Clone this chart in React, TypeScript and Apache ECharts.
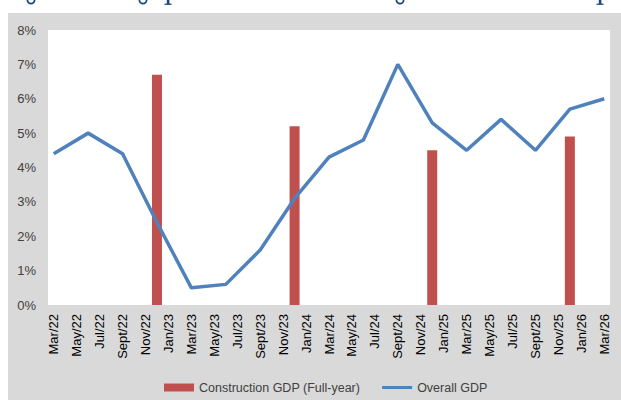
import React, { useEffect, useRef } from "react";
import * as echarts from "echarts";

// Monthly category axis (Excel-style date axis), labels every two months
const monthNames = ["Jan", "Feb", "Mar", "Apr", "May", "Jun", "Jul", "Aug", "Sept", "Oct", "Nov", "Dec"];
const startYear = 22;
const startMonth = 2; // Mar
const monthCount = 49; // Mar/22 .. Mar/26

// Overall GDP, quarterly observations
const overallLabels = [
  "Mar/22", "Jun/22", "Sept/22", "Dec/22",
  "Mar/23", "Jun/23", "Sept/23", "Dec/23",
  "Mar/24", "Jun/24", "Sept/24", "Dec/24",
  "Mar/25", "Jun/25", "Sept/25", "Dec/25",
  "Mar/26",
];
const overallGdp = [4.4, 5.0, 4.4, 2.4, 0.5, 0.6, 1.6, 3.1, 4.3, 4.8, 7.0, 5.3, 4.5, 5.4, 4.5, 5.7, 6.0];

// Construction GDP, full-year observations
const constructionLabels = ["Dec/22", "Dec/23", "Dec/24", "Dec/25"];
const constructionGdp = [6.7, 5.2, 4.5, 4.9];

const yTicks = [0, 1, 2, 3, 4, 5, 6, 7, 8];

// Cut-off title above the chart: only glyph descenders remain visible
const descenderKinds = ["g", "g", "p", "g", "p"];
const descenderX = [31, 143, 168, 400, 600];

function buildCategories(): string[] {
  const out: string[] = [];
  for (let i = 0; i < monthCount; i++) {
    const m = (startMonth + i) % 12;
    const y = startYear + Math.floor((startMonth + i) / 12);
    out.push(`${monthNames[m]}/${y}`);
  }
  return out;
}

function descenderShapes(): any[] {
  const color = "#1f497d";
  const out: any[] = [];
  descenderKinds.forEach((k, i) => {
    const x = descenderX[i];
    if (k === "g") {
      out.push({
        type: "arc",
        silent: true,
        shape: { cx: x, cy: 0, r: 3.6, startAngle: 0, endAngle: Math.PI },
        style: { stroke: color, lineWidth: 1.8, fill: null },
      });
    } else {
      out.push({
        type: "rect",
        silent: true,
        shape: { x: x - 1.2, y: 0, width: 2.6, height: 4.5 },
        style: { fill: color },
      });
      out.push({
        type: "rect",
        silent: true,
        shape: { x: x - 3.5, y: 3.6, width: 7, height: 1.3 },
        style: { fill: color },
      });
    }
  });
  return out;
}

export default function App() {
  const ref = useRef<HTMLDivElement>(null);

  useEffect(() => {
    if (!ref.current) return;
    const chart = echarts.init(ref.current, null, { renderer: "svg" });
    const categories = buildCategories();
    const lineData: (number | null)[] = categories.map((c) => {
      const k = overallLabels.indexOf(c);
      return k >= 0 ? overallGdp[k] : null;
    });
    const barData: (number | null)[] = categories.map((c) => {
      const k = constructionLabels.indexOf(c);
      return k >= 0 ? constructionGdp[k] : null;
    });

    chart.setOption({
      animation: false,
      backgroundColor: "transparent",
      graphic: descenderShapes(),
      grid: {
        left: 48,
        right: 11,
        top: 30,
        bottom: 95,
        show: true,
        backgroundColor: "#ffffff",
        borderWidth: 0,
      },
      legend: {
        left: 159,
        top: 376,
        itemWidth: 30,
        itemHeight: 8,
        itemGap: 22,
        textStyle: {
          fontFamily: "'Liberation Sans', Arial, sans-serif",
          fontSize: 12.5,
          color: "#404040",
        },
        data: [
          { name: "Construction GDP (Full-year)", icon: "rect" },
          { name: "Overall GDP", icon: "path://M0 0 H34 V3.4 H0 Z" },
        ],
      },
      xAxis: {
        type: "category",
        data: categories,
        boundaryGap: true,
        axisLine: { show: false },
        axisTick: { show: false },
        splitLine: { show: false },
        axisLabel: {
          interval: 1,
          rotate: 90,
          margin: 9,
          color: "#000000",
          fontSize: 13,
          fontFamily: "'Liberation Sans', Arial, sans-serif",
        },
      },
      yAxis: {
        type: "value",
        min: yTicks[0],
        max: yTicks[yTicks.length - 1],
        interval: 1,
        axisLine: { show: false },
        axisTick: { show: false },
        splitLine: { show: false },
        axisLabel: {
          formatter: "{value}%",
          margin: 12,
          color: "#404040",
          fontSize: 13,
          fontFamily: "'Liberation Sans', Arial, sans-serif",
        },
      },
      series: [
        {
          name: "Construction GDP (Full-year)",
          type: "bar",
          data: barData,
          barWidth: 10,
          itemStyle: { color: "#c0504d" },
        },
        {
          name: "Overall GDP",
          type: "line",
          data: lineData,
          connectNulls: true,
          showSymbol: false,
          symbol: "none",
          lineStyle: { color: "#4f81bd", width: 3.5 },
          itemStyle: { color: "#4f81bd" },
          z: 3,
        },
      ],
    });

    return () => chart.dispose();
  }, []);

  return (
    <div style={{ position: "absolute", left: 0, top: 0, width: 621, height: 400, background: "#ffffff" }}>
      <div style={{ position: "absolute", left: 8, top: 13, width: 613, height: 387, background: "#d9d9d9" }} />
      <div ref={ref} style={{ position: "absolute", left: 0, top: 0, width: 621, height: 400 }} />
    </div>
  );
}
